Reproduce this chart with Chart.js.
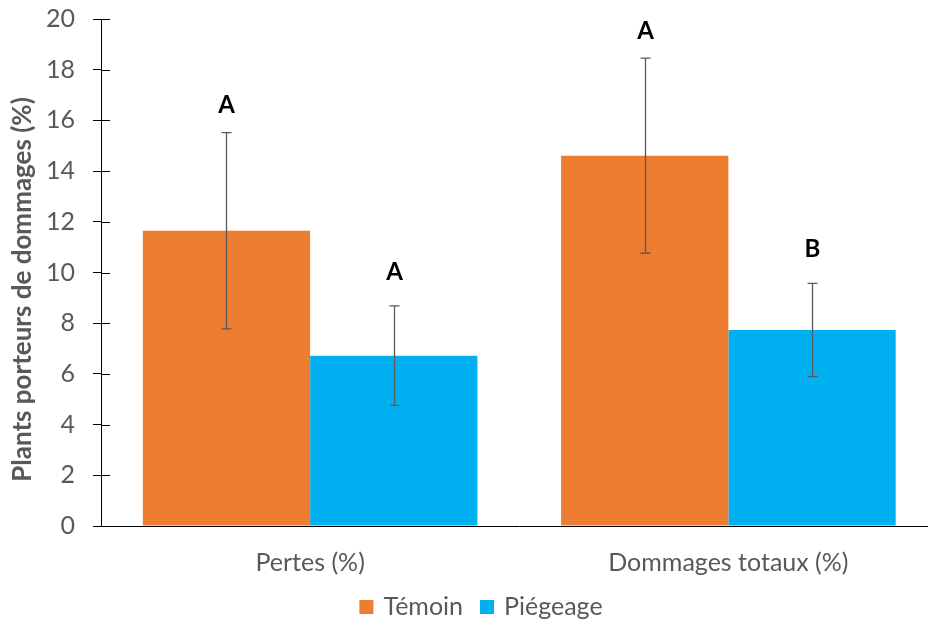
<!DOCTYPE html>
<html lang="fr">
<head>
<meta charset="utf-8">
<title>Plants porteurs de dommages</title>
<script src="https://cdn.jsdelivr.net/npm/chart.js@4.4.1/dist/chart.umd.min.js"></script>
<style>
  html, body { margin: 0; padding: 0; background: #fff; overflow: hidden; }
  #wrap { width: 938px; height: 622px; }
</style>
</head>
<body>
<div id="wrap"><canvas id="chart" width="938" height="622"></canvas></div>
<script>
// Categories and series
const categories = ['Pertes (%)', 'Dommages totaux (%)'];
const seriesNames = ['Témoin', 'Piégeage'];
const temoin = [11.65, 14.61];
const temoinErr = [3.87, 3.85];
const piegeage = [6.72, 7.73];
const piegeageErr = [1.96, 1.84];
// Significance letters shown above each error bar
const temoinLetters = ['A', 'A'];
const piegeageLetters = ['A', 'B'];
// Y axis range and title
const yMin = 0;
const yMax = 20;
const yStep = 2;
const yTitle = 'Plants porteurs de dommages (%)';

const ORANGE = '#ED7D31';
const BLUE = '#00B0F0';
const GREY = '#595959';
const FONT = 'Lato, "Open Sans", sans-serif';

// Error bars and letters drawn from the bar elements and the y scale
const errorBarPlugin = {
  id: 'errorBars',
  afterDatasetsDraw(chart) {
    const ctx = chart.ctx;
    const y = chart.scales.y;
    chart.data.datasets.forEach((ds, i) => {
      const meta = chart.getDatasetMeta(i);
      meta.data.forEach((bar, j) => {
        const v = ds.data[j];
        const e = ds.errors[j];
        const yTop = y.getPixelForValue(v + e);
        const yBot = y.getPixelForValue(v - e);
        const x = Math.round(bar.x) + 0.5;
        ctx.save();
        ctx.strokeStyle = '#5a5a5a';
        ctx.lineWidth = 1.3;
        ctx.beginPath();
        ctx.moveTo(x, yTop); ctx.lineTo(x, yBot);
        ctx.moveTo(x - 5, yTop); ctx.lineTo(x + 5, yTop);
        ctx.moveTo(x - 5, yBot); ctx.lineTo(x + 5, yBot);
        ctx.stroke();
        ctx.fillStyle = '#000';
        ctx.font = 'bold 24px ' + FONT;
        ctx.textAlign = 'center';
        ctx.textBaseline = 'middle';
        ctx.fillText(ds.letters[j], x, yTop - ds.letterGap);
        ctx.restore();
      });
    });
  }
};

// Tick marks crossing the y axis line, the y title and the legend row
const decorPlugin = {
  id: 'decor',
  afterDraw(chart) {
    const ctx = chart.ctx;
    const y = chart.scales.y;
    const area = chart.chartArea;
    ctx.save();
    ctx.strokeStyle = '#000';
    ctx.lineWidth = 1;
    ctx.beginPath();
    y.ticks.forEach(t => {
      const py = Math.round(y.getPixelForValue(t.value)) + 0.5;
      ctx.moveTo(area.left, py); ctx.lineTo(area.left + 9, py);
    });
    ctx.stroke();

    // y axis title
    ctx.save();
    ctx.translate(23, (area.top + area.bottom) / 2 + 17);
    ctx.rotate(-Math.PI / 2);
    ctx.font = 'bold 26px ' + FONT;
    ctx.fillStyle = GREY;
    ctx.textAlign = 'center';
    ctx.textBaseline = 'middle';
    ctx.fillText(yTitle, 0, 0);
    ctx.restore();

    // legend
    ctx.font = '25px ' + FONT;
    ctx.textBaseline = 'middle';
    ctx.textAlign = 'left';
    const box = 14, gapText = 10, gapItem = 17;
    const widths = chart.data.datasets.map(ds => box + gapText + ctx.measureText(ds.label).width);
    const total = widths.reduce((a, b) => a + b, 0) + gapItem * (widths.length - 1);
    let x = 481 - total / 2;
    const cy = 607;
    chart.data.datasets.forEach((ds, i) => {
      ctx.fillStyle = ds.backgroundColor;
      ctx.fillRect(x, cy - box / 2, box, box);
      ctx.fillStyle = GREY;
      ctx.fillText(ds.label, x + box + gapText, cy);
      x += widths[i] + gapItem;
    });
    ctx.restore();
  }
};

new Chart(document.getElementById('chart'), {
  type: 'bar',
  data: {
    labels: categories,
    datasets: [
      { label: seriesNames[0], data: temoin, errors: temoinErr, letters: temoinLetters, letterGap: 27,
        backgroundColor: ORANGE, borderWidth: 0 },
      { label: seriesNames[1], data: piegeage, errors: piegeageErr, letters: piegeageLetters, letterGap: 34,
        backgroundColor: BLUE, borderWidth: 0 }
    ]
  },
  options: {
    responsive: false,
    animation: false,
    events: [],
    layout: { padding: { left: 0, right: 0.5, top: 19, bottom: 0 } },
    datasets: { bar: { categoryPercentage: 0.8, barPercentage: 1.0 } },
    plugins: {
      legend: { display: false },
      tooltip: { enabled: false },
      title: { display: false }
    },
    scales: {
      x: {
        grid: { display: false },
        border: { display: true, color: '#000', width: 1 },
        ticks: { color: GREY, font: { family: FONT, size: 25 }, padding: 14 },
        afterFit(s) { s.height = 96; s.paddingLeft = 0; s.paddingRight = 0; }
      },
      y: {
        min: yMin,
        max: yMax,
        ticks: { stepSize: yStep, color: GREY, font: { family: FONT, size: 25 }, padding: 18 },
        grid: { display: true, drawOnChartArea: false, drawTicks: true, tickLength: 8, color: '#000', lineWidth: 1 },
        border: { display: true, color: '#000', width: 1 },
        afterFit(s) { s.width = 101; s.paddingTop = 0; s.paddingBottom = 0; }
      }
    }
  },
  plugins: [errorBarPlugin, decorPlugin]
});
</script>
</body>
</html>
